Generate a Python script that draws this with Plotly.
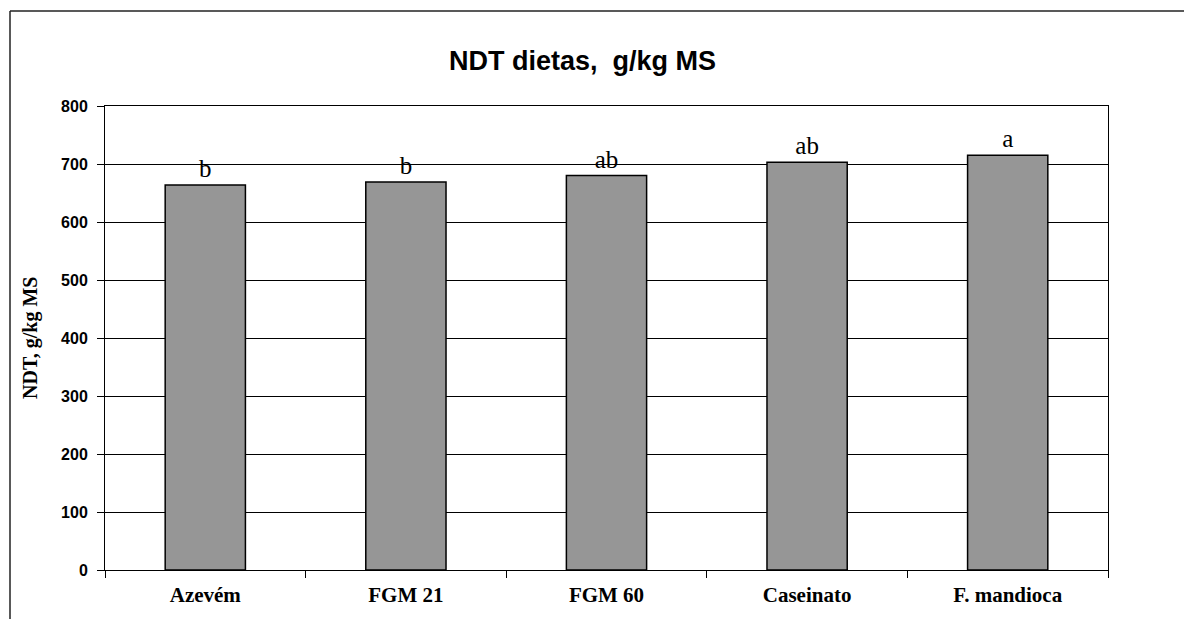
import plotly.graph_objects as go

# Dietary treatments and total digestible nutrients (g/kg DM)
categories = ["Azevém", "FGM 21", "FGM 60", "Caseinato", "F. mandioca"]
ndt_values = [664, 669, 680, 703, 715]
letters = ["b", "b", "ab", "ab", "a"]
y_ticks = [0, 100, 200, 300, 400, 500, 600, 700, 800]

SERIF = "Liberation Serif, Times New Roman, serif"
SANS = "Liberation Sans, Arial, sans-serif"

fig = go.Figure()
fig.add_trace(go.Bar(
    x=categories,
    y=ndt_values,
    width=0.4,
    marker=dict(color="#969696", line=dict(color="black", width=1.5)),
    text=letters,
    textposition="outside",
    textfont=dict(family=SERIF, size=25, color="black"),
    cliponaxis=False,
    hoverinfo="x+y",
))

fig.update_layout(
    width=1184,
    height=619,
    margin=dict(l=105, r=76, t=106, b=49),
    paper_bgcolor="white",
    plot_bgcolor="white",
    showlegend=False,
    font=dict(family=SANS, color="black"),
)

fig.update_xaxes(
    type="category",
    tickvals=categories,
    ticktext=[f"<b>{c}</b>" for c in categories],
    showline=True, linecolor="black", linewidth=1, mirror=True,
    ticks="outside", tickson="boundaries", ticklen=7, tickcolor="black",
    ticklabelstandoff=6,
    tickfont=dict(family=SERIF, size=21, color="black"),
    showgrid=False,
)
fig.update_yaxes(
    range=[0, 800],
    tickvals=y_ticks,
    ticktext=[f"<b>{v}</b>" for v in y_ticks],
    showline=True, linecolor="black", linewidth=1, mirror=True,
    ticks="outside", ticklen=7, tickcolor="black",
    ticklabelstandoff=6,
    tickfont=dict(family=SANS, size=16, color="black"),
    showgrid=True, gridcolor="black", gridwidth=1,
    zeroline=False,
)

# Chart title
fig.add_annotation(
    text="<b>NDT dietas,  g/kg MS</b>",
    xref="paper", yref="paper", x=0.476, y=1.0 + (106 - 61) / 464,
    xanchor="center", yanchor="middle", showarrow=False,
    font=dict(family=SANS, size=27, color="black"),
)

# Vertical axis title
fig.add_annotation(
    text="<b>NDT, g/kg MS</b>",
    xref="paper", yref="paper", x=(30 - 105) / 1003, y=0.5,
    xanchor="center", yanchor="middle", showarrow=False, textangle=-90,
    font=dict(family=SERIF, size=20, color="black"),
)

# Chart area border (top and left edges)
border_left = (10 - 105) / 1003
border_top = 1.0 + (106 - 11) / 464
fig.add_shape(
    type="line", xref="paper", yref="paper",
    x0=border_left, x1=1.08, y0=border_top, y1=border_top,
    line=dict(color="#222222", width=1.5),
)
fig.add_shape(
    type="line", xref="paper", yref="paper",
    x0=border_left, x1=border_left, y0=-0.12, y1=border_top,
    line=dict(color="#222222", width=1.5),
)

fig.write_html("out.html")
